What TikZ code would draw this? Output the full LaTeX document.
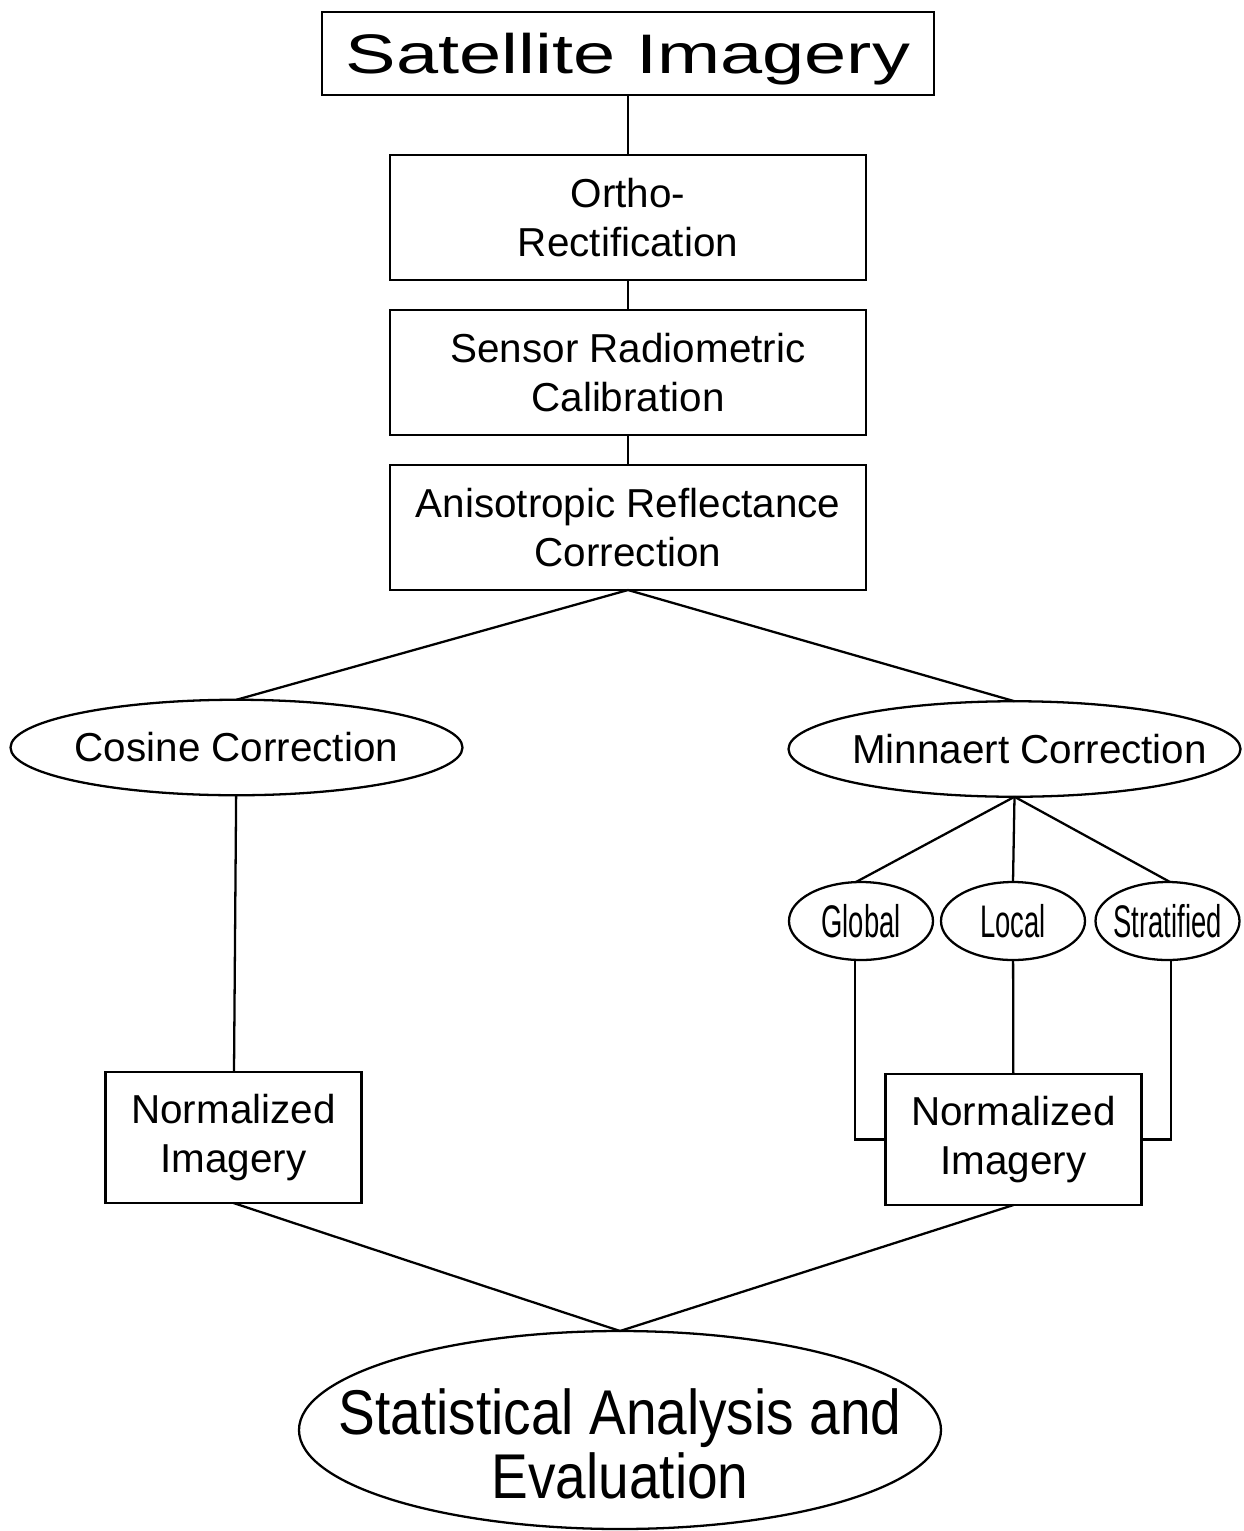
\documentclass[tikz,border=0pt]{standalone}
\usepackage{fontspec}
\setmainfont{Liberation Sans}
\newfontfamily\widefont[FakeStretch=1.36]{Liberation Sans}
\newfontfamily\narrowfont[FakeStretch=0.6]{Liberation Sans}
\newfontfamily\condfont[FakeStretch=0.87]{Liberation Sans}
\usetikzlibrary{positioning,shapes.geometric}

\begin{document}
\begin{tikzpicture}[node distance= 0.6cm,
    every node/.style={align=center,font=\fontsize{23}{27.5}\selectfont},
    stepbox/.style={draw,line width=1.3pt,outer sep=0pt,minimum width=9.52cm,minimum height=2.5cm,inner sep=0pt},
    normbox/.style={draw,line width=1.3pt,outer sep=0pt,minimum width=5.12cm,minimum height=2.62cm,inner sep=0pt},
    corr/.style={ellipse,draw,line width=1.3pt,outer sep=0pt,minimum width=9.04cm,minimum height=1.91cm,inner sep=0pt},
    variant/.style={ellipse,draw,line width=1.3pt,outer sep=0pt,minimum width=2.88cm,minimum height=1.56cm,inner sep=0pt},
    varianttext/.style={font=\narrowfont\fontsize{26}{28}\selectfont},
    link/.style={draw=black,line width=1.3pt}]
  \useasboundingbox (0,0) rectangle (24.88,-30.62);
  % main column
  \node (sat)[draw,line width=1.3pt,outer sep=0pt,minimum width=12.24cm,minimum height=1.66cm,inner sep=0pt,
    text height=22.7pt,text depth=0pt,
    font=\widefont\fontsize{31.7}{34}\selectfont] at (12.56,-1.07) {Satellite Imagery};
  \node (ortho)[stepbox] [below= 1.2cm of sat] {Ortho-\\Rectification};
  \node (sensor)[stepbox] [below= of ortho] {Sensor Radiometric\\Calibration};
  \node (aniso)[stepbox] [below= of sensor] {Anisotropic Reflectance\\Correction};
  % topographic corrections
  \node (cosine)[corr,label={center:Cosine Correction}] at (4.73,-14.95) {};
  \node (minnaert)[corr,label={[xshift=0.3cm]center:Minnaert Correction}] at (20.29,-14.98) {};
  \node (global)[variant,label={[varianttext]center:Global}] at (17.22,-18.42) {};
  \node (local)[variant,label={[varianttext]center:Local}] at (20.26,-18.42) {};
  \node (strat)[variant,label={[varianttext]center:Stratified}] at (23.35,-18.42) {};
  % outputs
  \node (normL)[normbox] at (4.67,-22.75) {Normalized\\Imagery};
  \node (normR)[normbox] at (20.27,-22.79) {Normalized\\Imagery};
  \node (stat)[ellipse,draw,line width=1.3pt,outer sep=0pt,minimum width=12.84cm,minimum height=3.96cm,inner sep=0pt,
    label={[yshift=-0.28cm,font=\condfont\fontsize{36}{36.5}\selectfont]center:Statistical Analysis and\\Evaluation}]
    at (12.4,-28.6) {};

  \path (sat) edge[link] (ortho);
  \path (ortho) edge[link] (sensor);
  \path (sensor) edge[link] (aniso);
  \path (aniso.south) edge[link] (cosine.north);
  \path (aniso.south) edge[link] (minnaert.north);
  \path (cosine) edge[link] (normL);
  \path (minnaert.south) edge[link] ([xshift=-0.1cm]global.north);
  \path (minnaert.south) edge[link] (local.north);
  \path (minnaert.south) edge[link] ([xshift=0.05cm]strat.north);
  \draw[link] ([xshift=-0.12cm]global.south) |- (normR.west);
  \path (local) edge[link] (normR);
  \draw[link] ([xshift=0.07cm]strat.south) |- (normR.east);
  \path (normL.south) edge[link] (stat.north);
  \path (normR.south) edge[link] (stat.north);
\end{tikzpicture}
\end{document}
